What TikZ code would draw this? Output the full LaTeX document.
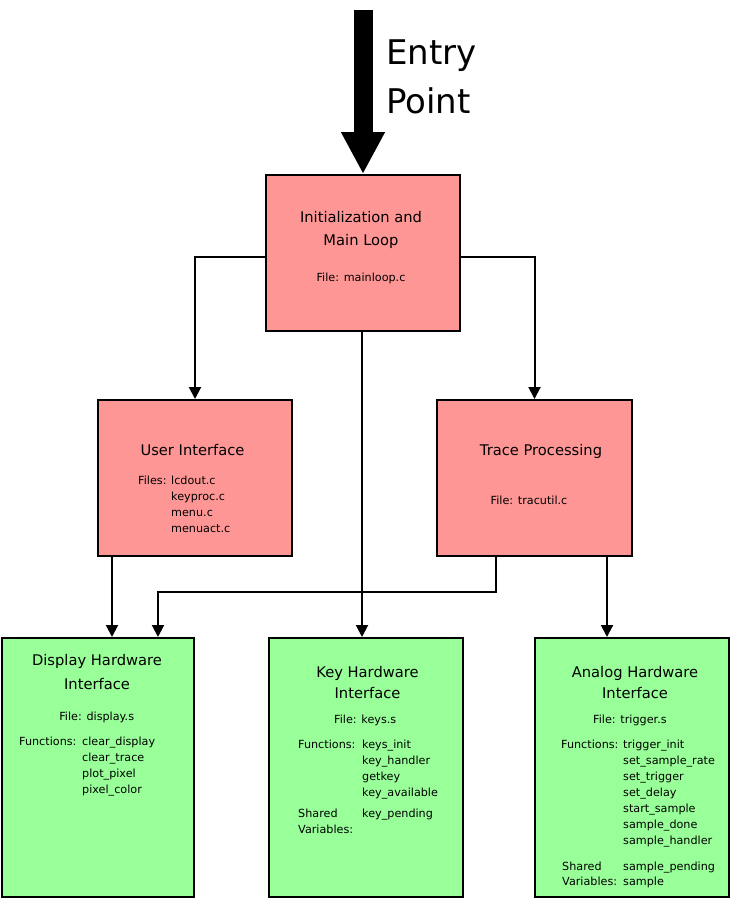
\documentclass[tikz,border=0pt]{standalone}
\usepackage{fontspec}
\setmainfont{DejaVu Sans}
\usetikzlibrary{arrows.meta}
\definecolor{pinkfill}{RGB}{255,150,150}
\definecolor{greenfill}{RGB}{153,255,153}
\begin{document}
\begin{tikzpicture}[x=1pt,y=-1pt,
  box/.style={draw=black, line width=2pt, inner sep=0pt},
  redbox/.style={box, fill=pinkfill},
  grnbox/.style={box, fill=greenfill},
  ttl/.style={font=\fontsize{14.7}{18}\selectfont, inner sep=0pt, anchor=base},
  sml/.style={font=\fontsize{11.2}{14}\selectfont, inner sep=0pt, anchor=base west},
  smc/.style={font=\fontsize{11.2}{14}\selectfont, inner sep=0pt, anchor=base},
  conn/.style={line width=2pt, -{Triangle[width=12pt,length=12pt]}},
  ]
\useasboundingbox (0,0) rectangle (731,899);

% boxes
\node[redbox, minimum width=194pt, minimum height=156pt] (main) at (363,253) {};
\node[redbox, minimum width=194pt, minimum height=156pt] (ui) at (195,478) {};
\node[redbox, minimum width=195pt, minimum height=156pt] (trace) at (534.5,478) {};
\node[grnbox, minimum width=192pt, minimum height=259pt] (disp) at (98,767.5) {};
\node[grnbox, minimum width=194pt, minimum height=259pt] (keyb) at (366,767.5) {};
\node[grnbox, minimum width=194pt, minimum height=259pt] (anlg) at (632,767.5) {};

% entry arrow
\coordinate (entry) at (363,10);
\draw[line width=19pt, -{Triangle[width=41pt,length=42pt]}] (entry) -- (main.north);
\node[font=\fontsize{34}{48}\selectfont, anchor=base west, inner sep=0pt] (ep1) at (386,65) {Entry};
\node[font=\fontsize{34}{48}\selectfont, anchor=base west, inner sep=0pt] (ep2) at (386,113.3) {Point};

% connectors
\draw[conn] ([yshift=-4pt]main.west) -| (ui.north);
\draw[conn] ([yshift=-4pt]main.east) -| (trace.north);
\draw[conn] ([xshift=-1pt]main.south) -- ([xshift=-1pt]main.south |- keyb.north);
\draw[conn] ([xshift=15pt]ui.south west) -- ([xshift=15pt]ui.south west |- disp.north);
\draw[conn] ([xshift=60pt]trace.south west) -- ++(0,35) -| ([xshift=-37pt]disp.north east);
\draw[conn] ([xshift=171pt]trace.south west) -- ([xshift=171pt]trace.south west |- anlg.north);

% main text
\node[ttl] (m1) at (361,222.7) {Initialization and};
\node[ttl] (m2) at (361,245) {Main Loop};
\node[smc] (m3) at (361,281.7) {File: mainloop.c};

% user interface
\node[ttl] (u1) at (192.5,455.7) {User Interface};
\node[sml] (u2) at (138,484) {Files:};
\node[sml] (u3) at (171,484) {lcdout.c};
\node[sml] (u4) at (171,500) {keyproc.c};
\node[sml] (u5) at (171,516) {menu.c};
\node[sml] (u6) at (171,532) {menuact.c};

% trace processing
\node[ttl] (t1) at (541,455.7) {Trace Processing};
\node[smc] (t2) at (529,504) {File: tracutil.c};

% display
\node[ttl] (d1) at (97,665.7) {Display Hardware};
\node[ttl] (d2) at (97,689.3) {Interface};
\node[smc] (d3) at (96.7,720.7) {File: display.s};
\node[sml] (d4) at (19,745) {Functions:};
\node[sml] (d5) at (82,745) {clear\_display};
\node[sml] (d6) at (82,761) {clear\_trace};
\node[sml] (d7) at (82,777) {plot\_pixel};
\node[sml] (d8) at (82,793) {pixel\_color};

% key
\node[ttl] (k1) at (367.5,677.7) {Key Hardware};
\node[ttl] (k2) at (367.5,698.3) {Interface};
\node[sml] (k3) at (334,723.3) {File: keys.s};
\node[sml] (k4) at (298,748.3) {Functions:};
\node[sml] (k5) at (362,748.3) {keys\_init};
\node[sml] (k6) at (362,764.3) {key\_handler};
\node[sml] (k7) at (362,780.3) {getkey};
\node[sml] (k8) at (362,796.3) {key\_available};
\node[sml] (k9) at (298,817.3) {Shared};
\node[sml] (k10) at (298,833.3) {Variables:};
\node[sml] (k11) at (362,817.3) {key\_pending};

% analog
\node[ttl] (a1) at (635,677.7) {Analog Hardware};
\node[ttl] (a2) at (635,698.3) {Interface};
\node[sml] (a3) at (593,723.3) {File: trigger.s};
\node[sml] (a4) at (561,748.3) {Functions:};
\node[sml] (a5) at (623,748.3) {trigger\_init};
\node[sml] (a6) at (623,764.3) {set\_sample\_rate};
\node[sml] (a7) at (623,780.3) {set\_trigger};
\node[sml] (a8) at (623,796.3) {set\_delay};
\node[sml] (a9) at (623,812.3) {start\_sample};
\node[sml] (a10) at (623,828.3) {sample\_done};
\node[sml] (a11) at (623,844.3) {sample\_handler};
\node[sml] (a12) at (562,870) {Shared};
\node[sml] (a13) at (562,885.5) {Variables:};
\node[sml] (a14) at (623,870) {sample\_pending};
\node[sml] (a15) at (623,885.5) {sample};
\end{tikzpicture}
\end{document}
